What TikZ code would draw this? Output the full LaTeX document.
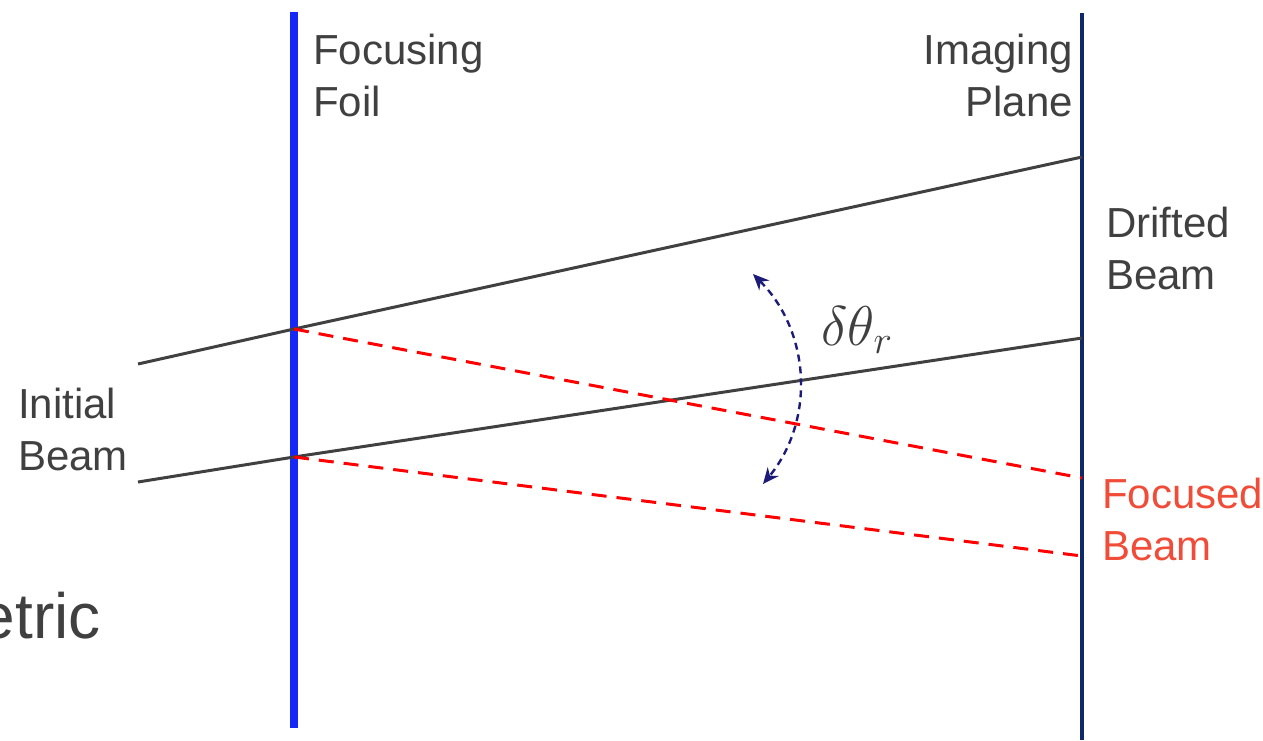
\RequirePackage{fix-cm}
\documentclass[tikz,border=0pt]{standalone}
\usepackage{fontspec}
\setmainfont{Liberation Sans}
\usetikzlibrary{arrows.meta}
\definecolor{foilblue}{RGB}{22,40,248}
\definecolor{planenavy}{RGB}{14,40,104}
\definecolor{txtgray}{RGB}{64,64,64}
\definecolor{focred}{RGB}{240,76,56}
\definecolor{arrnavy}{RGB}{28,28,120}
\begin{document}
\begin{tikzpicture}[x=1pt,y=-1pt,
  foil/.style={draw=foilblue, line width=8pt},
  pl/.style={draw=planenavy, line width=4pt},
  bm/.style={draw=txtgray, line width=3pt},
  fb/.style={draw=red, line width=3pt, dash pattern=on 15pt off 10pt},
  lbl/.style={inner sep=0pt, text=txtgray, font=\fontsize{42}{52}\selectfont},
  ang/.style={draw=arrnavy, line width=2.4pt, dash pattern=on 7pt off 5pt, {Stealth[length=16pt,width=14pt]}-{Stealth[length=16pt,width=14pt]}}]
\useasboundingbox (0,0) rectangle (1263,740);
\clip (0,0) rectangle (1263,740);
% foil and imaging plane
\coordinate (ft) at (294,12);
\coordinate (fbt) at (294,728);
\coordinate (pt) at (1082,13);
\coordinate (pb) at (1082,740);
\draw[foil] (ft) -- (fbt);
\draw[pl] (pt) -- (pb);
% beam points
\coordinate (u0) at (138,364);
\coordinate (u1) at (294,329);
\coordinate (u2) at (1082,157);
\coordinate (l0) at (138,482);
\coordinate (l1) at (294,457);
\coordinate (l2) at (1082,338);
\coordinate (fu) at (1082,478);
\coordinate (fl) at (1082,556);
\draw[bm] (u0) -- (u1) -- (u2);
\draw[bm] (l0) -- (l1) -- (l2);
\draw[fb] (u1) -- (fu);
\draw[fb] (l1) -- (fl);
% angle
\coordinate (at) at (753,274);
\coordinate (ab) at (763,484);
\draw[ang] (at) to[bend left=42] (ab);
\node[text=txtgray, inner sep=0pt, font=\fontsize{56}{60}\selectfont] (dth) at (857,330) {$\delta\theta_r$};
% labels
\node[lbl, anchor=north west, align=left] (foillbl) at (313,34) {Focusing\\Foil};
\node[lbl, anchor=north east, align=right] (planelbl) at (1073,34) {Imaging\\Plane};
\node[lbl, anchor=north west, align=left] (drlbl) at (1106,207) {Drifted\\Beam};
\node[lbl, anchor=north west, align=left] (inlbl) at (18,388) {Initial\\Beam};
\node[lbl, anchor=north west, align=left, text=focred] (fclbl) at (1102,478) {Focused\\Beam};
\node[inner sep=0pt, text=txtgray, anchor=base east, font=\fontsize{64}{70}\selectfont] (etr) at (101,638) {etric};
\end{tikzpicture}
\end{document}
